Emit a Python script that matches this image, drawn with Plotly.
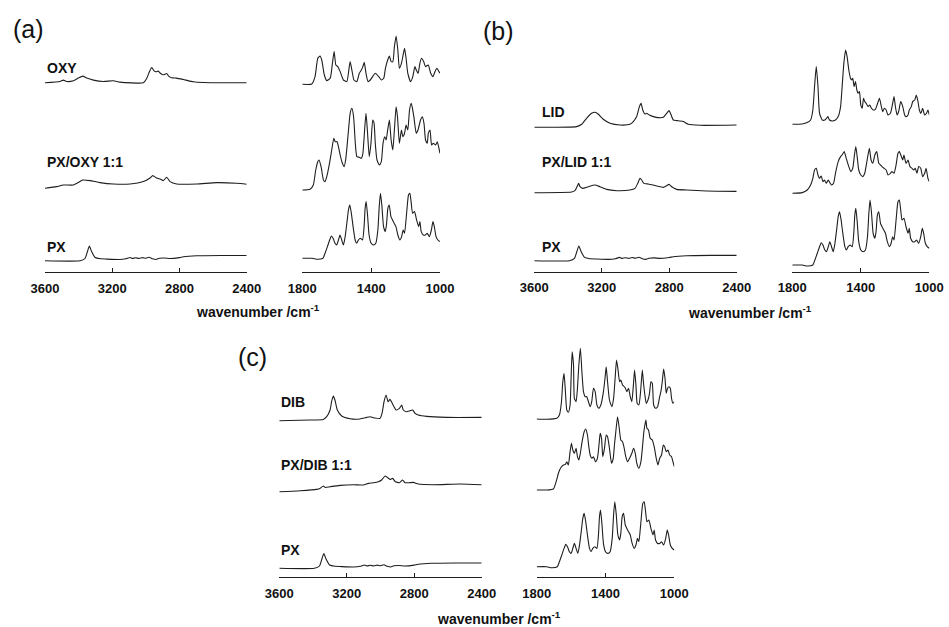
import plotly.graph_objects as go

# ---------------------------------------------------------------------------
# IR spectra (wavenumber in cm^-1, intensity in arbitrary units above baseline)
# ---------------------------------------------------------------------------

# Pure PX
PX_HI_WN = [3600, 3392, 3362, 3348, 3336, 3322, 3302, 3270, 3233, 3160, 3120, 3094, 3080, 3060,
            3040, 3020, 3000, 2980, 2960, 2940, 2920, 2890, 2856, 2800, 2777, 2697, 2550, 2400]
PX_HI_I = [0, 0, 2.3, 9, 14.7, 9, 3.3, 2, 1.7, 1.3, 2, 3.3, 2.3, 3,
           2.3, 3.2, 2.5, 3.5, 2, 1.3, 2.5, 2.8, 2.3, 3.2, 4, 5, 5.3, 5.3]
PX_LO_WN = [1800, 1742, 1713, 1680, 1668, 1654, 1641, 1631, 1621, 1610, 1600, 1590, 1581, 1571,
            1561, 1551, 1540, 1532, 1524, 1515, 1505, 1493, 1484, 1474, 1462, 1450, 1441, 1435,
            1429, 1421, 1412, 1400, 1386, 1373, 1361, 1353, 1346, 1338, 1328, 1318, 1311, 1303,
            1295, 1285, 1276, 1266, 1256, 1245, 1233, 1223, 1214, 1206, 1194, 1183, 1175, 1167,
            1159, 1148, 1136, 1124, 1117, 1109, 1097, 1085, 1074, 1062, 1050, 1041, 1033, 1023,
            1012, 1000]
PX_LO_I = [0, 0, -1, 0, 5, 11.7, 18.3, 22.3, 20, 15, 13.3, 18.3, 23.3, 18.3,
           13.3, 21.7, 36.7, 48.3, 53.3, 45, 31.7, 18.3, 15, 18.3, 20, 18.3, 31.7, 50,
           56.7, 43.3, 23.3, 15, 13.3, 15, 28.3, 51.7, 65, 53.3, 31.7, 26.7, 33.3, 50,
           53.3, 41.7, 38.3, 35, 31.7, 23.3, 18.3, 21.7, 28.3, 25, 45, 63.3, 65, 55,
           45, 46.7, 38.3, 31.7, 36.7, 26.7, 23.3, 23.3, 25, 21.7, 28.3, 36.7, 31.7, 21.7,
           18.3, 16.7]

# OXY and PX/OXY 1:1
OXY_HI_WN = [3600, 3511, 3491, 3471, 3431, 3402, 3376, 3352, 3312, 3253, 3193, 3154, 3015, 2995,
             2979, 2965, 2951, 2940, 2926, 2912, 2896, 2876, 2866, 2846, 2817, 2777, 2717, 2658, 2400]
OXY_HI_I = [0, 1.3, 2.7, 1.3, 2, 4.7, 6.7, 4.7, 2.7, 1.3, 2, 0.7, 0, 4.3,
            11, 15.3, 12, 11, 11.7, 9.3, 8, 9.3, 7, 5, 4.7, 3.3, 1, 0.3, 0]
OXY_LO_WN = [1800, 1745, 1726, 1710, 1697, 1687, 1672, 1658, 1638, 1625, 1615, 1605, 1594, 1580,
             1561, 1541, 1531, 1522, 1512, 1500, 1483, 1469, 1457, 1448, 1440, 1430, 1418, 1405,
             1385, 1376, 1356, 1341, 1327, 1317, 1304, 1294, 1284, 1274, 1265, 1255, 1245, 1236,
             1224, 1216, 1206, 1197, 1187, 1171, 1158, 1146, 1138, 1127, 1117, 1107, 1095, 1084,
             1068, 1054, 1041, 1029, 1018, 1006, 1000]
OXY_LO_I = [0, 0.3, 7.7, 26, 28.3, 24.3, 9.3, 3.7, 6, 21, 32.7, 19.3, 17.7, 12.7,
            4.3, 2.7, 12.7, 22.7, 14.3, 4.3, 2.7, 11, 14.3, 17.7, 22, 11, 2.7, 4.3,
            9.3, 11, 7.7, 4.3, 6, 16, 24.3, 28.3, 22.7, 22.7, 37.7, 48.3, 34.3, 16,
            21, 27.7, 36, 26, 11, 2.7, 7.7, 17.7, 14.3, 11, 21, 26, 22.7, 17.7,
            19.3, 11, 7.7, 12.7, 16, 12.7, 11]
PXOXY_HI_WN = [3600, 3531, 3491, 3431, 3402, 3376, 3332, 3273, 3193, 3094, 3015, 2975, 2959, 2936,
               2912, 2896, 2876, 2856, 2817, 2697, 2579, 2460, 2400]
PXOXY_HI_I = [0, 1.7, 3.3, 3.3, 5.7, 8.3, 7.7, 5.7, 4.3, 4.3, 6.7, 10.3, 12.7, 10.3,
              9, 7.7, 11, 6.7, 4.3, 4.3, 5.7, 5, 4]
PXOXY_LO_WN = [1800, 1755, 1736, 1722, 1710, 1703, 1691, 1677, 1668, 1658, 1642, 1629, 1617, 1609,
               1598, 1590, 1580, 1570, 1557, 1547, 1535, 1522, 1512, 1502, 1492, 1483, 1469, 1457,
               1448, 1438, 1430, 1422, 1411, 1401, 1391, 1383, 1376, 1366, 1352, 1341, 1331, 1321,
               1313, 1304, 1294, 1284, 1274, 1265, 1255, 1247, 1236, 1224, 1216, 1206, 1197, 1187,
               1177, 1167, 1162, 1152, 1138, 1128, 1113, 1103, 1093, 1084, 1074, 1068, 1058, 1049,
               1039, 1025, 1016, 1006, 1000]
PXOXY_LO_I = [0, 0.7, 5, 20, 28.3, 30, 23.3, 10, 8.3, 13.3, 26.7, 40, 51.7, 48.3,
              48.3, 43.3, 35, 28.3, 23.3, 31.7, 53.3, 76.7, 81.7, 73.3, 46.7, 33.3, 32.7, 31.7,
              36.7, 60, 76.7, 60, 33.3, 46.7, 70, 66.7, 46.7, 30, 25, 28.3, 46.7, 53.3,
              50, 60, 70, 50, 40, 60, 83.3, 73.3, 46.7, 60, 53.3, 56.7, 65, 60,
              80, 86.7, 83.3, 73.3, 56.7, 60, 70, 73.3, 66.7, 50, 46.7, 56.7, 60, 45,
              46.7, 45, 48.3, 41.7, 36.7]

# LID and PX/LID 1:1
LID_HI_WN = [3600, 3349, 3319, 3290, 3260, 3240, 3220, 3191, 3151, 3092, 3033, 3013, 2993, 2977,
             2967, 2957, 2944, 2934, 2918, 2894, 2865, 2835, 2815, 2801, 2791, 2776, 2756, 2736,
             2716, 2687, 2617, 2400]
LID_HI_I = [0, 0.7, 3, 9, 14, 15, 13, 8, 4, 2.3, 3, 5.7, 10.7, 20.7,
            24, 17.3, 13.3, 14, 12.3, 10.7, 9.7, 10, 14, 16.7, 13.3, 7.3, 6.7, 6.3,
            5.7, 3, 2, 2.3]
LID_LO_WN = [1800, 1742, 1713, 1693, 1680, 1670, 1660, 1650, 1641, 1625, 1610, 1600, 1592, 1583,
             1567, 1548, 1532, 1518, 1509, 1499, 1489, 1480, 1470, 1460, 1454, 1447, 1439, 1431,
             1423, 1416, 1408, 1400, 1392, 1384, 1377, 1369, 1357, 1348, 1338, 1328, 1315, 1305,
             1291, 1280, 1272, 1262, 1252, 1241, 1227, 1214, 1206, 1198, 1188, 1179, 1167, 1155,
             1144, 1136, 1124, 1117, 1105, 1097, 1085, 1076, 1066, 1058, 1049, 1039, 1027, 1016,
             1008, 1000]
LID_LO_I = [0, 0.3, 1.7, 4.3, 14.3, 37.7, 57.7, 37.7, 11, 4.3, 4.3, 6, 7.7, 4.3,
            3.3, 4.3, 7.7, 17.7, 37.7, 61, 74.3, 67.7, 54.3, 46, 44.3, 46, 37.7, 42.7,
            34.3, 31, 32.7, 19.3, 16, 26, 22.7, 21, 17.7, 19.3, 16, 14.3, 15, 19.3,
            26, 17.7, 12.7, 16, 14.3, 9.3, 11, 21, 27.7, 17.7, 9.3, 12.7, 22.7, 17.7,
            9.3, 7.7, 9.3, 14.3, 17.7, 22.7, 24.3, 29.3, 22.7, 14.3, 11, 16, 9.3, 11,
            14.3, 9.3]
PXLID_HI_WN = [3600, 3379, 3359, 3345, 3337, 3329, 3313, 3280, 3240, 3211, 3171, 3112, 3033, 3003,
               2987, 2973, 2963, 2950, 2924, 2874, 2835, 2815, 2801, 2785, 2756, 2697, 2578, 2400]
PXLID_HI_I = [0, 0.7, 2, 6.7, 9.3, 6, 4.3, 6, 7.7, 6, 3.3, 2, 2.7, 4.3,
              9.3, 14.3, 12.7, 9.3, 8.7, 6.7, 5.3, 7, 8.3, 6, 3.3, 2.7, 1.7, 1.3]
PXLID_LO_WN = [1800, 1742, 1713, 1693, 1680, 1670, 1660, 1650, 1641, 1631, 1621, 1612, 1602, 1590,
               1581, 1571, 1559, 1548, 1532, 1518, 1509, 1497, 1485, 1470, 1458, 1447, 1437, 1429,
               1419, 1412, 1400, 1388, 1377, 1363, 1350, 1340, 1330, 1318, 1307, 1295, 1285, 1276,
               1264, 1252, 1241, 1227, 1218, 1206, 1194, 1183, 1175, 1163, 1155, 1148, 1136, 1124,
               1113, 1101, 1091, 1082, 1072, 1062, 1050, 1039, 1027, 1019, 1008, 1000]
PXLID_LO_I = [0, 0.7, 3.3, 8.3, 15, 23.3, 25, 18.3, 15, 17.3, 11.7, 13.3, 10, 13.3,
              10.7, 8.3, 10, 20, 31.7, 36.7, 38.3, 41.7, 35, 26.7, 21.7, 25, 38.3, 46.7,
              33.3, 23.3, 18.3, 16.7, 20, 33.3, 45, 33.3, 30, 38.3, 41.7, 30, 28.3, 26.7,
              25, 23.3, 18.3, 20, 21.7, 20, 28.3, 40, 41.7, 36.7, 33.3, 38.3, 30, 33.3,
              26.7, 25, 23.3, 25, 20, 26.7, 25, 16.7, 20, 25, 15, 11.7]

# DIB and PX/DIB 1:1
DIB_HI_WN = [3600, 3418, 3339, 3319, 3299, 3290, 3280, 3270, 3256, 3230, 3181, 3122, 3082, 3062,
             3033, 3003, 2991, 2979, 2967, 2955, 2944, 2932, 2920, 2908, 2888, 2874, 2865, 2845,
             2825, 2809, 2795, 2776, 2726, 2608, 2400]
DIB_HI_I = [0, 0.7, 1.3, 4, 10.7, 19, 24.7, 20.7, 10.7, 4.7, 2, 1.7, 3.3, 4,
            2.7, 2.3, 7.3, 19, 25.7, 19, 21.3, 18, 14, 10.7, 12.3, 15.7, 10.7, 9,
            10, 10.7, 7.3, 5.7, 4.3, 3.3, 3.3]
DIB_LO_WN = [1800, 1742, 1683, 1668, 1656, 1649, 1641, 1633, 1625, 1616, 1606, 1600, 1594, 1586,
             1581, 1571, 1563, 1555, 1546, 1536, 1528, 1518, 1509, 1499, 1489, 1480, 1470, 1460,
             1450, 1439, 1427, 1412, 1402, 1396, 1388, 1377, 1363, 1353, 1344, 1336, 1328, 1318,
             1311, 1301, 1291, 1284, 1276, 1266, 1256, 1247, 1237, 1231, 1223, 1216, 1206, 1196,
             1186, 1179, 1171, 1163, 1153, 1144, 1136, 1128, 1120, 1109, 1097, 1085, 1078, 1070,
             1062, 1054, 1047, 1039, 1031, 1023, 1016, 1008, 1000]
DIB_LO_I = [0, -0.3, 0.7, 4, 17.3, 35.7, 45.7, 27.3, 9, 6.7, 14, 40.7, 67.3, 54,
            20.7, 17.3, 30.7, 54, 70.7, 44, 27.3, 22.3, 22.3, 17.3, 12.3, 17.3, 30.7, 27.3,
            14, 10.7, 14, 27.3, 42.3, 52.3, 37.3, 19, 12.3, 20.7, 40.7, 59, 50.7, 37.3,
            39, 34, 32.3, 30.7, 27.3, 30.7, 22.3, 17.3, 35.7, 49, 34, 15.7, 14, 27.3,
            49, 35.7, 24, 15.7, 19, 25.7, 37.3, 35.7, 14, 10.7, 12.3, 22.3, 27.3, 37.3,
            50, 40.7, 25.7, 30.7, 32.3, 30.7, 20.7, 15.7, 17.3]
PXDIB_HI_WN = [3600, 3477, 3379, 3359, 3339, 3329, 3299, 3240, 3161, 3102, 3072, 3042, 3013, 2993,
               2973, 2959, 2944, 2928, 2912, 2888, 2869, 2855, 2829, 2805, 2776, 2687, 2528, 2400]
PXDIB_HI_I = [0, 1, 2.3, 3.3, 5.7, 4.3, 5, 6.3, 7, 6.7, 8.3, 9, 10, 11.7,
              15.7, 14.3, 12.3, 13.3, 10, 9, 11.7, 9, 9, 9.3, 7.7, 7, 7.7, 7]
PXDIB_LO_WN = [1800, 1742, 1703, 1687, 1674, 1660, 1645, 1633, 1625, 1616, 1606, 1598, 1590, 1581,
               1571, 1563, 1555, 1548, 1536, 1524, 1515, 1505, 1497, 1489, 1480, 1470, 1458, 1447,
               1437, 1431, 1423, 1416, 1406, 1396, 1388, 1377, 1365, 1355, 1348, 1340, 1330, 1320,
               1311, 1301, 1291, 1282, 1272, 1260, 1247, 1237, 1227, 1218, 1206, 1194, 1184, 1177,
               1171, 1165, 1159, 1150, 1140, 1128, 1117, 1105, 1095, 1085, 1074, 1064, 1056, 1047,
               1037, 1027, 1016, 1008, 1000]
PXDIB_LO_I = [0, 0, 1, 8.3, 16.7, 22.3, 25, 25.7, 28.3, 25, 38.3, 46.7, 40, 36.7,
              41.7, 33.3, 30, 35, 48.3, 58.3, 61, 55, 43.3, 35, 31.7, 33.3, 28.3, 31.7,
              46.7, 56.7, 51.7, 33.3, 41.7, 55, 53.3, 41.7, 26.7, 31.7, 45, 58.3, 73.3, 61.7,
              50, 48.3, 41.7, 33.3, 28.3, 31.7, 36.7, 41.7, 36.7, 26.7, 21.7, 28.3, 45, 58.3,
              65, 70, 61.7, 60, 51.7, 50, 43.3, 31.7, 25, 31.7, 35, 45, 43.3, 38.3,
              40, 35, 33.3, 28.3, 23.3]

HI_TICKS = [3600, 3200, 2800, 2400]
LO_TICKS = [1800, 1400, 1000]
AXIS_TITLE = "wavenumber /cm<sup>-1</sup>"

# ---------------------------------------------------------------------------
# Layout geometry (pixels of the 949 x 627 canvas)
# ---------------------------------------------------------------------------
W, H = 949, 627
FONT = "Liberation Sans, Arial, Helvetica, sans-serif"
INK = "#1e1e1e"


def fx(px):
    return px / W


def fy(py):
    return 1 - py / H


# each panel: letter, letter position, hi-range x extent, lo-range x extent,
# axis-line y, top y, title centre, spectra (label, label y, hi data, lo data,
# hi offset, lo offset)
PANELS = [
    dict(letter="(a)", letter_xy=(28, 29), hi_x=(45, 246.7), lo_x=(302.3, 440),
         base=272.3, top=10, title_xy=(257.5, 310.5), label_x=45,
         rows=[
             ("OXY", 68, (OXY_HI_WN, OXY_HI_I), (OXY_LO_WN, OXY_LO_I), 189.5, 188),
             ("PX/OXY 1:1", 161.7, (PXOXY_HI_WN, PXOXY_HI_I), (PXOXY_LO_WN, PXOXY_LO_I), 84, 82.3),
             ("PX", 246.7, (PX_HI_WN, PX_HI_I), (PX_LO_WN, PX_LO_I), 11.5, 14),
         ]),
    dict(letter="(b)", letter_xy=(498, 31.5), hi_x=(534.3, 736.7), lo_x=(792.3, 929.3),
         base=271.5, top=10, title_xy=(750, 311.7), label_x=540,
         rows=[
             ("LID", 111.7, (LID_HI_WN, LID_HI_I), (LID_LO_WN, LID_LO_I), 144.2, 147.2),
             ("PX/LID 1:1", 161.7, (PXLID_HI_WN, PXLID_HI_I), (PXLID_LO_WN, PXLID_LO_I), 78.8, 78.2),
             ("PX", 246.7, (PX_HI_WN, PX_HI_I), (PX_LO_WN, PX_LO_I), 10.8, 6.5),
         ]),
    dict(letter="(c)", letter_xy=(252.5, 356.7), hi_x=(279.3, 481.7), lo_x=(536.7, 674.3),
         base=577.3, top=330, title_xy=(499, 618.3), label_x=279,
         rows=[
             ("DIB", 401.7, (DIB_HI_WN, DIB_HI_I), (DIB_LO_WN, DIB_LO_I), 156.6, 158.3),
             ("PX/DIB 1:1", 465, (PXDIB_HI_WN, PXDIB_HI_I), (PXDIB_LO_WN, PXDIB_LO_I), 85.6, 87.3),
             ("PX", 550, (PX_HI_WN, PX_HI_I), (PX_LO_WN, PX_LO_I), 9, 10.6),
         ]),
]

fig = go.Figure()
layout = {}
annotations = []

axis_no = 0
for panel in PANELS:
    for rng_name, xext, ticks, xr in (("hi", panel["hi_x"], HI_TICKS, [3600, 2400]),
                                      ("lo", panel["lo_x"], LO_TICKS, [1800, 1000])):
        axis_no += 1
        sfx = "" if axis_no == 1 else str(axis_no)
        layout["xaxis" + sfx] = dict(
            domain=[fx(xext[0]), fx(xext[1])], range=xr, anchor="y" + sfx,
            tickvals=ticks, ticks="inside", ticklen=4, tickwidth=1, tickcolor=INK,
            showline=True, linecolor=INK, linewidth=1, showgrid=False, zeroline=False,
            tickfont=dict(family=FONT, size=13, color="#111", weight="bold"),
            ticklabelstandoff=4, automargin=False,
        )
        layout["yaxis" + sfx] = dict(
            domain=[fy(panel["base"]), fy(panel["top"])],
            range=[0, panel["base"] - panel["top"]], anchor="x" + sfx, visible=False,
            automargin=False,
        )
        for label, _, hi, lo, off_hi, off_lo in panel["rows"]:
            wn, inten = hi if rng_name == "hi" else lo
            off = off_hi if rng_name == "hi" else off_lo
            fig.add_trace(go.Scatter(
                x=wn, y=[v + off for v in inten], mode="lines",
                line=dict(color=INK, width=1.1, shape="spline", smoothing=0.5),
                xaxis="x" + sfx, yaxis="y" + sfx, showlegend=False, hoverinfo="skip",
            ))

    for label, ly, *_ in panel["rows"]:
        annotations.append(dict(
            text="<b>%s</b>" % label, x=fx(panel["label_x"]), y=fy(ly),
            xref="paper", yref="paper", xanchor="left", yanchor="middle", showarrow=False,
            font=dict(family=FONT, size=14, color="#111"),
        ))
    lx, ly = panel["letter_xy"]
    annotations.append(dict(
        text=panel["letter"], x=fx(lx), y=fy(ly), xref="paper", yref="paper",
        xanchor="center", yanchor="middle", showarrow=False,
        font=dict(family=FONT, size=25, color="#111"),
    ))
    tx, ty = panel["title_xy"]
    annotations.append(dict(
        text="<b>%s</b>" % AXIS_TITLE, x=fx(tx), y=fy(ty), xref="paper", yref="paper",
        xanchor="center", yanchor="middle", showarrow=False,
        font=dict(family=FONT, size=14, color="#111"),
    ))

fig.update_layout(
    width=W, height=H,
    margin=dict(l=0, r=0, t=0, b=0, pad=0, autoexpand=False),
    paper_bgcolor="white", plot_bgcolor="white",
    annotations=annotations, **layout,
)

fig.write_html("out.html", config={"displayModeBar": False})
